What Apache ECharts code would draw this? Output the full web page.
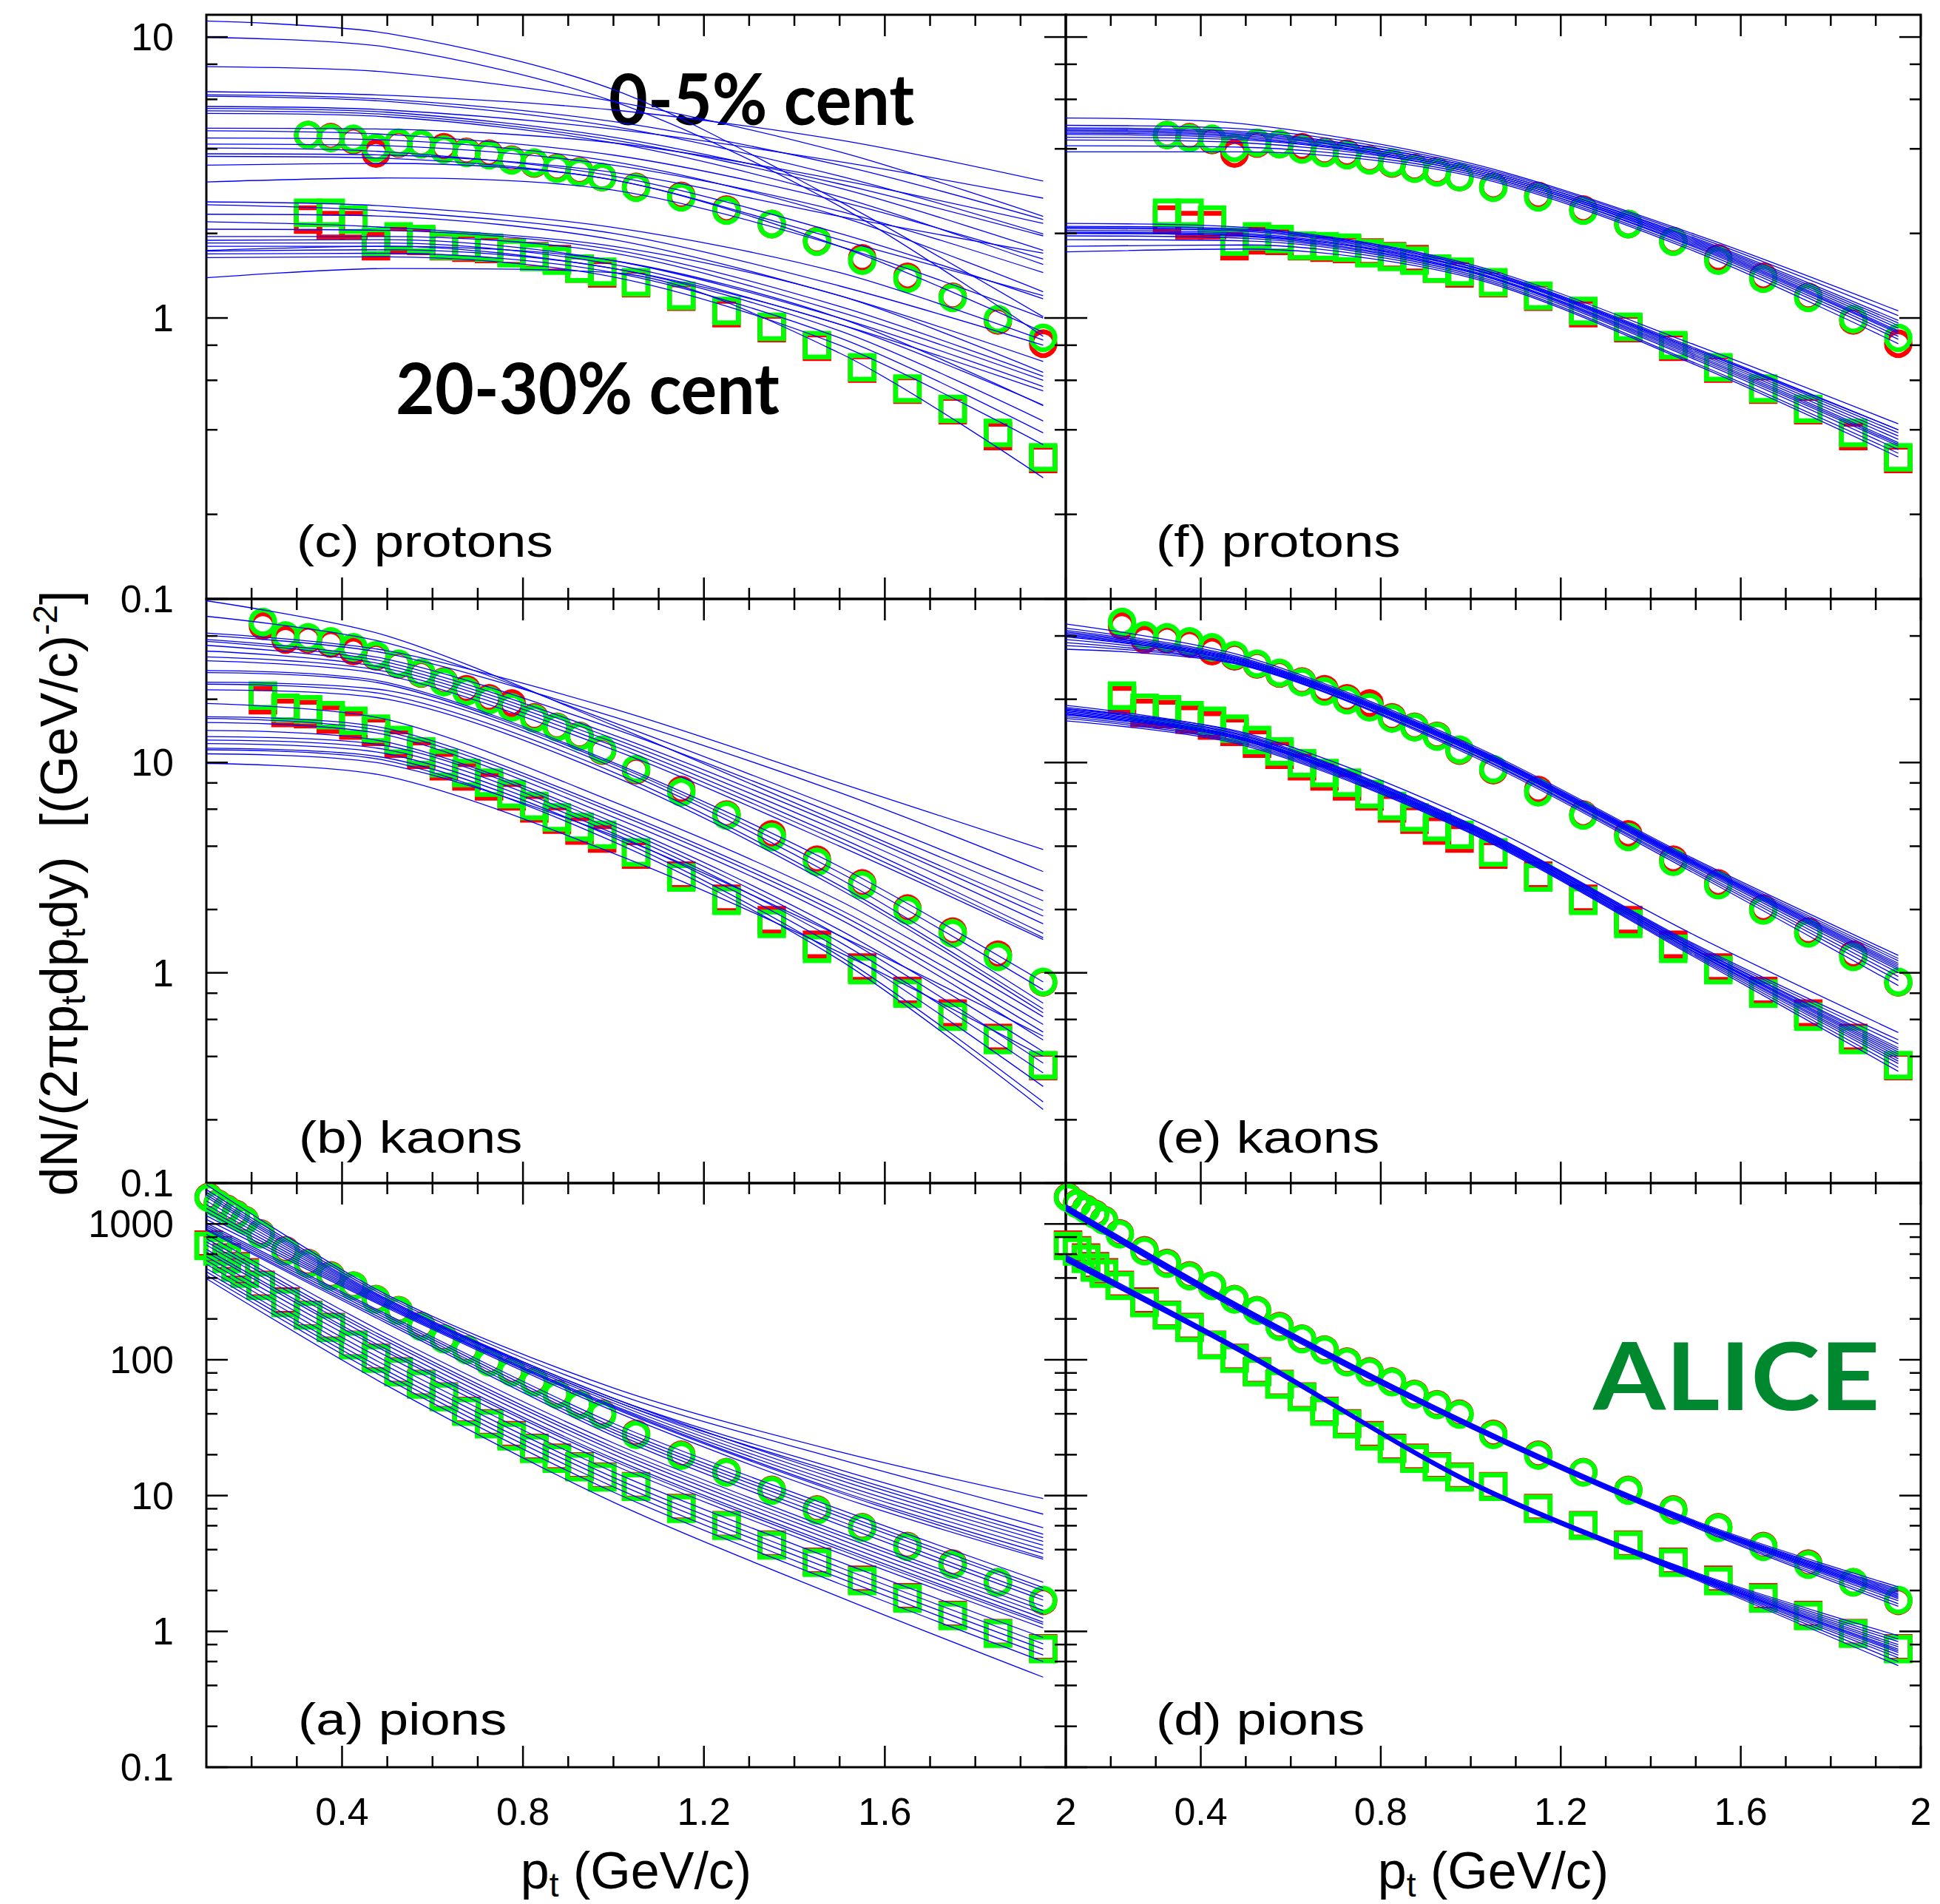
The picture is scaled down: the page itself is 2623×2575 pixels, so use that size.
<!DOCTYPE html>
<html>
<head>
<meta charset="utf-8">
<script src="https://cdn.jsdelivr.net/npm/echarts@6/dist/echarts.min.js"></script>
<style>
html, body { margin: 0; padding: 0; background: #ffffff; }
#chart { width: 2623px; height: 2575px; }
</style>
</head>
<body>
<div id="chart"></div>
<script>
// ---------- transverse momentum bins (GeV/c) ----------
const protonPt = [0.325, 0.375, 0.425, 0.475, 0.525, 0.575, 0.625, 0.675, 0.725, 0.775, 0.825, 0.875, 0.925, 0.975,
  1.05, 1.15, 1.25, 1.35, 1.45, 1.55, 1.65, 1.75, 1.85, 1.95];
const kaonPt = [0.225, 0.275, 0.325, 0.375, 0.425, 0.475, 0.525, 0.575, 0.625, 0.675, 0.725, 0.775, 0.825, 0.875, 0.925, 0.975,
  1.05, 1.15, 1.25, 1.35, 1.45, 1.55, 1.65, 1.75, 1.85, 1.95];
const pionPt = [0.105, 0.125, 0.145, 0.165, 0.185, 0.22,
  0.275, 0.325, 0.375, 0.425, 0.475, 0.525, 0.575, 0.625, 0.675, 0.725, 0.775, 0.825, 0.875, 0.925, 0.975,
  1.05, 1.15, 1.25, 1.35, 1.45, 1.55, 1.65, 1.75, 1.85, 1.95];

// ---------- measured spectra: circles = 0-5%, squares = 20-30% ----------
const protonCent05Pos = [4.48, 4.40, 4.30, 3.85, 4.18, 4.16, 4.05, 3.90, 3.84, 3.66, 3.55, 3.42, 3.32, 3.17, 2.93, 2.72, 2.43, 2.16, 1.88, 1.63, 1.40, 1.19, 0.98, 0.81];
const protonCent05Neg = [4.48, 4.37, 4.34, 4.03, 4.21, 4.16, 3.98, 3.87, 3.80, 3.64, 3.57, 3.40, 3.30, 3.17, 2.91, 2.69, 2.41, 2.16, 1.87, 1.60, 1.38, 1.18, 0.99, 0.85];
const protonCent2030Pos = [2.24, 2.14, 2.14, 1.80, 1.89, 1.88, 1.80, 1.78, 1.76, 1.71, 1.66, 1.62, 1.50, 1.44, 1.33, 1.19, 1.04, 0.92, 0.79, 0.66, 0.556, 0.47, 0.38, 0.315];
const protonCent2030Neg = [2.37, 2.37, 2.24, 1.87, 1.95, 1.91, 1.81, 1.80, 1.78, 1.70, 1.65, 1.60, 1.50, 1.46, 1.34, 1.20, 1.06, 0.93, 0.80, 0.667, 0.561, 0.475, 0.39, 0.319];

const kaonCent05Pos = [44.8, 38.5, 38.6, 36.8, 33.9, 32.0, 29.3, 26.5, 24.3, 22.3, 20.2, 19.1, 16.4, 14.8, 13.4, 11.4, 9.2, 7.4, 5.65, 4.55, 3.45, 2.66, 2.02, 1.57, 1.22, 0.90];
const kaonCent05Neg = [46.6, 40.2, 39.4, 37.7, 35.3, 32.4, 29.5, 26.7, 24.1, 21.8, 19.8, 18.3, 16.2, 14.7, 13.3, 11.5, 9.31, 7.22, 5.60, 4.43, 3.37, 2.61, 1.98, 1.54, 1.19, 0.905];
const kaonCent2030Pos = [19.8, 17.2, 17.0, 16.0, 15.0, 14.0, 12.3, 10.9, 9.6, 8.6, 7.7, 6.9, 6.05, 5.35, 4.75, 4.35, 3.65, 2.90, 2.25, 1.78, 1.36, 1.06, 0.82, 0.64, 0.49, 0.36];
const kaonCent2030Neg = [20.8, 18.2, 17.9, 16.8, 15.8, 14.5, 12.8, 11.3, 9.92, 8.92, 8.02, 7.07, 6.22, 5.48, 4.93, 4.53, 3.74, 2.84, 2.20, 1.71, 1.30, 1.03, 0.797, 0.618, 0.479, 0.364];

const pionCent05Pos = [1580, 1415, 1295, 1185, 1070, 850, 640, 515, 418, 352, 280, 232, 177, 143, 119, 97, 82, 69, 56, 47, 40, 28.5, 20, 14.9, 11, 7.9, 5.85, 4.25, 3.15, 2.3, 1.68];
const pionCent05Neg = [1560, 1400, 1280, 1170, 1060, 840, 630, 509, 413, 350, 278, 230, 175, 142, 118, 96, 81, 68.4, 55.5, 46.5, 39.5, 28, 19.7, 14.8, 10.9, 7.8, 5.8, 4.2, 3.1, 2.3, 1.7];
const pionCent2030Pos = [705, 640, 565, 488, 440, 356, 268, 214, 174, 129, 103, 82, 66.3, 53.5, 42, 34, 27.8, 22.4, 19.0, 16.4, 13.8, 11.7, 8.1, 6.05, 4.35, 3.25, 2.4, 1.78, 1.32, 0.97, 0.75];
const pionCent2030Neg = [690, 628, 553, 478, 431, 350, 262, 212, 172, 128, 102, 81, 65.6, 53, 41.4, 33.6, 27.3, 22.1, 18.7, 16.2, 13.6, 11.6, 8.0, 6.0, 4.3, 3.2, 2.35, 1.75, 1.3, 0.96, 0.74];

// ---------- model curves, sampled at lineX ----------
const lineX = [0.1, 0.5, 1.0, 1.5, 1.95];

// (c) protons, broad parameter scan
const protonLinesC = [
  [11.4, 10.3, 6.5, 2.6, 1.01], [9.96, 9.2, 5.9, 2.5, 0.86], [7.85, 7.5, 5.9, 3.9, 2.30], [6.39, 6.2, 5.5, 4.3, 3.07],
  [6.23, 6.0, 5.0, 3.5, 2.24], [6.16, 5.9, 4.8, 3.2, 1.99], [5.66, 5.5, 4.7, 3.6, 2.67], [5.57, 5.4, 4.4, 3.0, 1.96],
  [5.46, 5.3, 4.3, 2.9, 1.74], [5.35, 5.2, 4.2, 2.7, 1.55], [4.74, 4.7, 4.2, 3.1, 2.17], [4.64, 4.5, 3.8, 2.6, 1.62],
  [4.37, 4.3, 3.6, 2.3, 1.24], [4.16, 4.1, 3.5, 2.4, 1.45], [4.03, 3.9, 3.2, 2.0, 1.17], [3.84, 3.8, 3.3, 2.3, 1.70],
  [3.76, 3.7, 3.1, 1.9, 1.20], [3.50, 3.55, 3.1, 1.8, 0.89], [3.05, 3.15, 2.85, 1.8, 1.0],
  [2.59, 2.5, 2.1, 1.45, 0.835], [2.53, 2.4, 2.0, 1.3, 0.80], [2.34, 2.3, 1.9, 1.2, 0.70], [2.20, 2.1, 1.8, 1.2, 0.64],
  [2.07, 2.05, 1.75, 1.1, 0.62], [1.95, 1.95, 1.7, 1.05, 0.60], [1.89, 1.9, 1.6, 1.0, 0.57], [1.85, 1.85, 1.55, 0.95, 0.55],
  [1.80, 1.8, 1.5, 0.95, 0.49], [1.74, 1.8, 1.6, 1.0, 0.487], [1.73, 1.75, 1.5, 0.9, 0.43], [1.69, 1.7, 1.45, 0.85, 0.39],
  [1.64, 1.65, 1.4, 0.8, 0.354], [1.39, 1.5, 1.45, 0.75, 0.27]
];
// (f) protons, constrained set
const protonLinesF = [
  [5.15, 4.9, 3.55, 1.98, 1.06], [4.85, 4.7, 3.5, 1.95, 1.02], [4.75, 4.6, 3.45, 1.92, 0.98], [4.7, 4.55, 3.45, 1.90, 0.96],
  [4.65, 4.5, 3.4, 1.88, 0.94], [4.6, 4.45, 3.4, 1.86, 0.92], [4.55, 4.4, 3.35, 1.84, 0.90], [4.5, 4.35, 3.35, 1.82, 0.89],
  [4.4, 4.3, 3.3, 1.80, 0.88], [4.3, 4.2, 3.3, 1.78, 0.86], [4.1, 4.05, 3.25, 1.75, 0.84], [3.9, 3.9, 3.2, 1.72, 0.81],
  [2.17, 2.1, 1.55, 0.80, 0.42], [2.12, 2.07, 1.53, 0.78, 0.40], [2.1, 2.05, 1.52, 0.77, 0.39], [2.08, 2.03, 1.50, 0.76, 0.38],
  [2.05, 2.0, 1.49, 0.75, 0.37], [2.02, 1.98, 1.47, 0.74, 0.36], [2.0, 1.95, 1.46, 0.73, 0.355], [1.96, 1.92, 1.45, 0.72, 0.35],
  [1.90, 1.88, 1.43, 0.71, 0.34], [1.80, 1.82, 1.41, 0.69, 0.33], [1.72, 1.76, 1.39, 0.68, 0.32], [2.0, 1.96, 1.5, 0.77, 0.40]
];
// (b) kaons, broad parameter scan
const kaonLinesB = [
  [58.8, 40, 15, 5.2, 1.98], [49.6, 37, 15.5, 6.0, 2.45], [41.3, 34, 18, 8.0, 3.86], [40.2, 33, 16.5, 7.2, 3.03],
  [38.5, 31, 14.5, 5.6, 2.20], [37.7, 30, 13.5, 5.0, 1.86], [36.1, 29, 13, 4.7, 1.71], [33.9, 28, 12.5, 4.4, 1.54],
  [31.8, 27, 12, 4.2, 1.47], [30.5, 26, 11.5, 4.0, 1.44], [27.4, 24, 10, 3.2, 0.905], [26.8, 23.5, 9.8, 3.0, 0.83],
  [24.1, 22, 9.5, 2.8, 0.717], [23.6, 21, 9.0, 2.6, 0.673], [22.2, 20, 8.6, 2.5, 0.645],
  [19.1, 16, 6.5, 2.2, 0.618], [16.5, 14.5, 6.0, 2.0, 0.568], [16.2, 14, 5.8, 1.9, 0.522], [15.5, 13.5, 5.5, 1.8, 0.479],
  [14.2, 12.5, 5.2, 1.6, 0.422], [13.3, 12, 5.0, 1.5, 0.372], [12.8, 11.5, 4.8, 1.4, 0.334], [12.3, 11, 4.6, 1.3, 0.288],
  [11.7, 10.5, 4.4, 1.2, 0.243], [11.5, 10.2, 4.2, 1.15, 0.224], [11.0, 9.8, 4.5, 1.5, 0.50], [9.9, 8.6, 3.7, 1.25, 0.40]
];
// (e) kaons, constrained set
const kaonLinesE = [
  [45.6, 31.9, 12.2, 3.45, 1.21], [43.5, 31.2, 12.0, 3.40, 1.17], [42.5, 30.8, 11.9, 3.36, 1.14], [41.8, 30.5, 11.8, 3.33, 1.11],
  [41.2, 30.3, 11.7, 3.30, 1.09], [40.6, 30.0, 11.6, 3.27, 1.07], [40.0, 29.8, 11.5, 3.24, 1.05], [39.6, 29.6, 11.4, 3.20, 1.03],
  [38.5, 29.3, 11.3, 3.15, 1.0], [37.2, 29.0, 11.1, 3.08, 0.96], [36.0, 28.9, 11.0, 3.02, 0.92], [34.6, 28.7, 10.8, 2.95, 0.87],
  [18.7, 13.6, 5.1, 1.36, 0.48], [18.3, 13.4, 5.05, 1.34, 0.46], [18.0, 13.3, 5.0, 1.32, 0.44], [17.8, 13.1, 4.95, 1.31, 0.43],
  [17.6, 13.0, 4.9, 1.29, 0.42], [17.4, 12.9, 4.86, 1.28, 0.41], [17.2, 12.8, 4.82, 1.27, 0.40], [17.0, 12.7, 4.78, 1.25, 0.39],
  [16.8, 12.6, 4.74, 1.24, 0.38], [16.5, 12.4, 4.7, 1.22, 0.37], [16.2, 12.2, 4.65, 1.20, 0.355], [15.8, 12.0, 4.6, 1.18, 0.34],
  [18.0, 13.8, 5.4, 1.5, 0.52]
];
// (a) pions, broad parameter scan
const pionLinesA = [
  [1945, 300, 62, 21, 9.5], [1790, 290, 57, 18.5, 7.3], [1710, 280, 52, 15.5, 5.8], [1640, 275, 50, 14.5, 5.2],
  [1575, 270, 52, 13.8, 4.9], [1480, 265, 50, 13.0, 4.6], [1390, 260, 48, 12.2, 4.3], [1305, 255, 46, 11.5, 4.0],
  [1225, 250, 45, 10.8, 3.75], [1150, 245, 44, 10.5, 3.5], [1080, 240, 42, 9.8, 3.4], [1015, 215, 34, 7.9, 2.3],
  [980, 208, 32, 7.4, 2.1], [950, 200, 30.5, 7.0, 2.0], [920, 192, 29, 6.5, 1.8], [900, 185, 27.5, 6.1, 1.7],
  [840, 154, 24.4, 5.4, 1.53], [780, 143, 22.7, 5.1, 1.43], [740, 136, 21.5, 4.77, 1.34], [700, 127.5, 20.1, 4.46, 1.25],
  [650, 118.6, 18.7, 4.17, 1.17], [620, 113.6, 18.0, 4.0, 1.13], [575, 105.7, 16.8, 3.76, 1.06], [540, 96.6, 14.9, 3.26, 0.90],
  [505, 89.4, 13.6, 2.96, 0.81], [470, 82.7, 12.6, 2.71, 0.74], [445, 77.4, 11.6, 2.47, 0.67], [420, 72, 10.6, 2.24, 0.60],
  [396, 64.4, 8.94, 1.79, 0.46]
];
// (d) pions, constrained set
const pionLinesD = [
  [1390, 240, 34.2, 6.5, 2.13], [1370, 238, 33.8, 6.4, 2.05], [1355, 236, 33.5, 6.35, 2.0], [1340, 234, 33.2, 6.3, 1.95],
  [1325, 232, 33.0, 6.25, 1.90], [1310, 230, 32.8, 6.2, 1.86], [1300, 228, 32.6, 6.15, 1.82], [1290, 226, 32.4, 6.1, 1.78],
  [1280, 224, 32.2, 6.05, 1.74], [1270, 222, 31.9, 6.0, 1.68], [1260, 219, 31.6, 5.9, 1.60], [1250, 215, 31.3, 5.8, 1.53],
  [590, 116, 12.9, 2.72, 0.93], [580, 115, 12.8, 2.68, 0.88], [572, 114, 12.7, 2.65, 0.84], [565, 113, 12.6, 2.62, 0.80],
  [558, 112, 12.5, 2.60, 0.77], [552, 111, 12.4, 2.57, 0.74], [547, 110.5, 12.35, 2.55, 0.72], [542, 110, 12.3, 2.53, 0.70],
  [538, 109, 12.2, 2.50, 0.67], [535, 108.5, 12.1, 2.47, 0.64], [532, 108, 12.05, 2.44, 0.60], [530, 107, 12.0, 2.40, 0.56]
];

// ---------- axis ranges and tick labels ----------
const ptRange = [0.1, 2.0];
const protonYRange = [0.1, 12];
const kaonYRange = [0.1, 60];
const pionYRange = [0.1, 2000];
const xTickLabels = [0.4, 0.8, 1.2, 1.6, 2];
const xMinorTicks = [0.2, 0.3, 0.5, 0.6, 0.7, 0.9, 1.0, 1.1, 1.3, 1.4, 1.5, 1.7, 1.8, 1.9];
const protonYLabels = [0.1, 1, 10];
const kaonYLabels = [0.1, 1, 10];
const pionYLabels = [0.1, 1, 10, 100, 1000];

// ---------- layout ----------
const FONT = '"Liberation Sans", Arial, Helvetica, sans-serif';
const columns = [{ left: 279, width: 1162 }, { left: 1441, width: 1156 }];
const rowsBox = [{ top: 20, height: 790 }, { top: 810, height: 790 }, { top: 1600, height: 790 }];

const rowsDef = [
  { range: protonYRange, labels: protonYLabels, pt: protonPt,
    c05: [protonCent05Pos, protonCent05Neg], c2030: [protonCent2030Pos, protonCent2030Neg],
    lines: [protonLinesC, protonLinesF] },
  { range: kaonYRange, labels: kaonYLabels, pt: kaonPt,
    c05: [kaonCent05Pos, kaonCent05Neg], c2030: [kaonCent2030Pos, kaonCent2030Neg],
    lines: [kaonLinesB, kaonLinesE] },
  { range: pionYRange, labels: pionYLabels, pt: pionPt,
    c05: [pionCent05Pos, pionCent05Neg], c2030: [pionCent2030Pos, pionCent2030Neg],
    lines: [pionLinesA, pionLinesD] }
];

// decade ticks plus 2,4,6,8 intermediates on a log axis
function logTicks(range) {
  const major = [], minor = [];
  const lo = Math.floor(Math.log10(range[0]) + 1e-9), hi = Math.ceil(Math.log10(range[1]) - 1e-9);
  for (let e = lo; e <= hi; e++) {
    const d = Math.pow(10, e);
    if (d >= range[0] * 0.999 && d <= range[1] * 1.001) major.push(+d.toPrecision(6));
    [2, 4, 6, 8].forEach(m => {
      const v = +(m * d).toPrecision(6);
      if (v > range[0] && v < range[1]) minor.push(v);
    });
  }
  return { major, minor };
}

// inward ticks mirrored on both sides of each frame, with optional labels
function renderTicks(params, api) {
  const cs = params.coordSys;
  const kind = api.value(2), major = api.value(3), showLab = api.value(4);
  const p = api.coord([api.value(0), api.value(1)]);
  const len = major ? 29 : 15;
  const st = { stroke: '#000', lineWidth: 2.5 };
  const kids = [];
  if (kind === 0) {
    const x = p[0], yb = cs.y + cs.height, yt = cs.y;
    kids.push({ type: 'line', shape: { x1: x, y1: yb, x2: x, y2: yb - len }, style: st });
    kids.push({ type: 'line', shape: { x1: x, y1: yt, x2: x, y2: yt + len }, style: st });
    if (showLab) {
      kids.push({ type: 'text', style: { text: String(api.value(0)), x: x, y: yb + 34,
        align: 'center', verticalAlign: 'top', fontSize: 52, fontFamily: FONT, fill: '#000' } });
    }
  } else {
    const y = p[1], xl = cs.x, xr = cs.x + cs.width;
    kids.push({ type: 'line', shape: { x1: xl, y1: y, x2: xl + len, y2: y }, style: st });
    kids.push({ type: 'line', shape: { x1: xr, y1: y, x2: xr - len, y2: y }, style: st });
    if (showLab) {
      kids.push({ type: 'text', style: { text: String(api.value(1)), x: xl - 44, y: y,
        align: 'right', verticalAlign: 'middle', fontSize: 52, fontFamily: FONT, fill: '#000' } });
    }
  }
  return { type: 'group', children: kids };
}

const grids = [], xAxes = [], yAxes = [], series = [];

rowsDef.forEach((row, r) => {
  columns.forEach((col, c) => {
    const gi = grids.length;
    grids.push({ left: col.left, width: col.width, top: rowsBox[r].top, height: rowsBox[r].height,
      show: true, borderColor: '#000', borderWidth: 3, backgroundColor: 'transparent', containLabel: false });
    xAxes.push({ gridIndex: gi, type: 'value', min: ptRange[0], max: ptRange[1], show: false });
    yAxes.push({ gridIndex: gi, type: 'log', logBase: 10, min: row.range[0], max: row.range[1], show: false });

    // measured points: red drawn first, green on top
    const markerSets = [
      { vals: row.c05[0], sym: 'circle', color: '#ff0000' },
      { vals: row.c2030[0], sym: 'rect', color: '#ff0000' },
      { vals: row.c05[1], sym: 'circle', color: '#00ff00' },
      { vals: row.c2030[1], sym: 'rect', color: '#00ff00' }
    ];
    markerSets.forEach(m => {
      series.push({
        type: 'scatter', xAxisIndex: gi, yAxisIndex: gi, symbol: m.sym, symbolSize: 32,
        data: row.pt.map((x, i) => [x, m.vals[i]]),
        itemStyle: { color: 'rgba(0,0,0,0)', borderColor: m.color, borderWidth: 6.5, opacity: 1 },
        z: 2, silent: true
      });
    });

    // model curves
    row.lines[c].forEach(vals => {
      series.push({
        type: 'line', xAxisIndex: gi, yAxisIndex: gi, showSymbol: false, symbol: 'none', smooth: 0.3,
        data: lineX.map((x, i) => [x, vals[i]]),
        lineStyle: { color: '#0000ff', width: 1.3 }, z: 3, silent: true
      });
    });

    // ticks and tick labels
    const showX = r === 2, showY = c === 0;
    const yt = logTicks(row.range);
    const tickData = [];
    xTickLabels.forEach(v => tickData.push([v, row.range[0], 0, 1, showX ? 1 : 0]));
    xMinorTicks.forEach(v => tickData.push([v, row.range[0], 0, 0, 0]));
    yt.major.forEach(v => tickData.push([ptRange[0], v, 1, 1, (showY && row.labels.indexOf(v) >= 0) ? 1 : 0]));
    yt.minor.forEach(v => tickData.push([ptRange[0], v, 1, 0, 0]));
    series.push({
      type: 'custom', xAxisIndex: gi, yAxisIndex: gi, renderItem: renderTicks,
      data: tickData, encode: { x: 0, y: 1 }, clip: false, z: 5, silent: true
    });
  });
});

const panelLabels = [
  { text: '(c) protons', x: 401, y: 731 }, { text: '(f) protons', x: 1563, y: 731 },
  { text: '(b) kaons', x: 404, y: 1537 }, { text: '(e) kaons', x: 1563, y: 1537 },
  { text: '(a) pions', x: 403, y: 2324 }, { text: '(d) pions', x: 1563, y: 2324 }
];

const richAxis = {
  s: { fontSize: 46, fontFamily: FONT, lineHeight: 46, verticalAlign: 'bottom', fill: '#000' },
  u: { fontSize: 46, fontFamily: FONT, lineHeight: 46, verticalAlign: 'top', fill: '#000' }
};

const graphics = [];
panelLabels.forEach(p => graphics.push({
  type: 'text', x: p.x, y: p.y, scaleX: 1.17, z: 1, silent: true,
  style: { text: p.text, fontSize: 62, fontFamily: FONT, fill: '#000', align: 'left', verticalAlign: 'middle' }
}));
graphics.push({ type: 'text', x: 823, y: 132, scaleX: 0.95, z: 1, silent: true,
  style: { text: '0-5% cent', fontSize: 96, fontWeight: 'bold', fontFamily: 'Lato, "Open Sans", sans-serif',
    fill: '#000', align: 'left', verticalAlign: 'middle' } });
graphics.push({ type: 'text', x: 535, y: 523, scaleX: 0.95, z: 1, silent: true,
  style: { text: '20-30% cent', fontSize: 96, fontWeight: 'bold', fontFamily: 'Lato, "Open Sans", sans-serif',
    fill: '#000', align: 'left', verticalAlign: 'middle' } });
graphics.push({ type: 'text', x: 2154, y: 1858, scaleX: 1.12, z: 1, silent: true,
  style: { text: 'ALICE', fontSize: 126, fontWeight: 'bold', fontFamily: 'Lato, "Open Sans", sans-serif',
    fill: '#00882e', align: 'left', verticalAlign: 'middle' } });
[860, 2019].forEach(cx => graphics.push({
  type: 'text', x: cx, y: 2530, z: 1, silent: true,
  style: { text: 'p{s|t} (GeV/c)', fontSize: 70, fontFamily: FONT, lineHeight: 84, fill: '#000',
    align: 'center', verticalAlign: 'middle', rich: richAxis }
}));
graphics.push({
  type: 'text', x: 80, y: 1208, rotation: Math.PI / 2, z: 1, silent: true,
  style: { text: 'dN/(2πp{s|t}dp{s|t}dy)  [(GeV/c){u|-2}]', fontSize: 70, fontFamily: FONT, lineHeight: 84,
    fill: '#000', align: 'center', verticalAlign: 'middle', rich: richAxis }
});

const chart = echarts.init(document.getElementById('chart'), null, { renderer: 'svg', width: 2623, height: 2575 });
chart.setOption({
  backgroundColor: '#ffffff',
  animation: false,
  grid: grids,
  xAxis: xAxes,
  yAxis: yAxes,
  series: series,
  graphic: { elements: graphics }
});
</script>
</body>
</html>
